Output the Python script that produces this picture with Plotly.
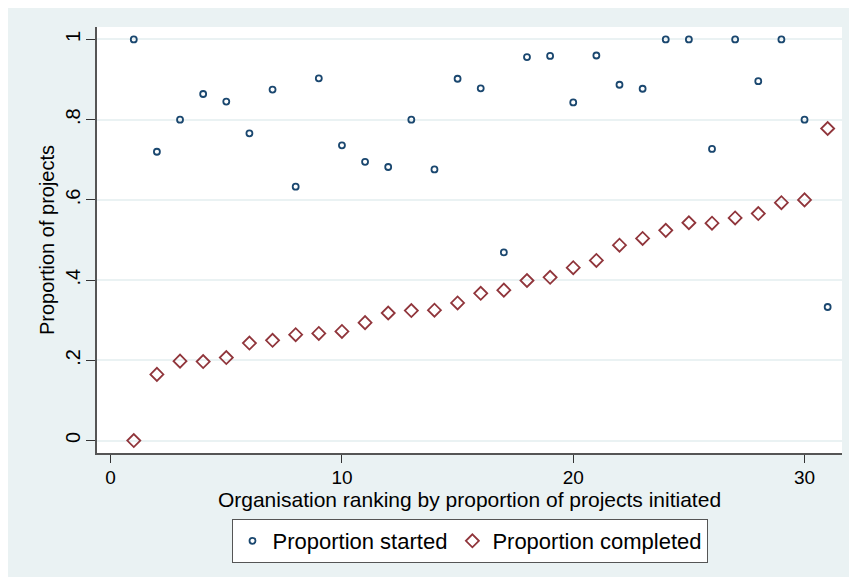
import plotly.graph_objects as go

# Data
org_rank = [1, 2, 3, 4, 5, 6, 7, 8, 9, 10, 11, 12, 13, 14, 15, 16,
            17, 18, 19, 20, 21, 22, 23, 24, 25, 26, 27, 28, 29, 30, 31]
prop_started = [1.0, 0.720, 0.800, 0.864, 0.845, 0.766, 0.875, 0.633, 0.903, 0.736,
                0.695, 0.682, 0.800, 0.676, 0.902, 0.878, 0.469, 0.956, 0.959, 0.843,
                0.960, 0.887, 0.877, 1.0, 1.0, 0.727, 1.0, 0.896, 1.0, 0.800, 0.333]
prop_completed = [0.0, 0.165, 0.198, 0.197, 0.207, 0.243, 0.250, 0.264, 0.267, 0.272,
                  0.294, 0.318, 0.324, 0.325, 0.343, 0.367, 0.375, 0.399, 0.407, 0.431,
                  0.449, 0.487, 0.504, 0.524, 0.543, 0.542, 0.555, 0.566, 0.593, 0.600, 0.778]
x_ticks = [0, 10, 20, 30]
y_ticks = [0, 0.2, 0.4, 0.6, 0.8, 1.0]
y_tick_labels = ["0", ".2", ".4", ".6", ".8", "1"]

BG = "#EAF2F3"
NAVY = "#1a476f"
MAROON = "#90353b"
FONT = "Liberation Sans, Arial, sans-serif"

fig = go.Figure()
fig.add_trace(go.Scatter(
    x=org_rank, y=prop_started, mode="markers", name="Proportion started",
    marker=dict(symbol="circle-open", size=6, color=NAVY, line=dict(width=1.8, color=NAVY)),
))
fig.add_trace(go.Scatter(
    x=org_rank, y=prop_completed, mode="markers", name="Proportion completed",
    marker=dict(symbol="diamond-open", size=10, color=MAROON, line=dict(width=1.8, color=MAROON)),
))

# the page body adds an 8px offset, so the figure is sized to fit the window
W, H = 849, 569
L, R, T, B = 89, 15, 19, 124
ph = H - T - B

def px_to_paper_y(py):
    return (H - B - py) / ph

fig.update_layout(
    width=W, height=H,
    margin=dict(l=L, r=R, t=T, b=B, pad=0, autoexpand=False),
    paper_bgcolor=BG, plot_bgcolor="white",
    font=dict(family=FONT, color="black", size=19),
    showlegend=True,
    legend=dict(
        orientation="h", x=0.5, xanchor="center", y=px_to_paper_y(511), yanchor="top",
        bgcolor="white", bordercolor="#555555", borderwidth=1,
        font=dict(size=22, family=FONT), itemwidth=30, tracegroupgap=0,
    ),
    xaxis=dict(
        range=[-0.59, 31.62], tickmode="array", tickvals=x_ticks,
        ticks="outside", ticklen=8, tickwidth=1, tickcolor="#333333",
        showline=True, linecolor="#555555", linewidth=1.5,
        showgrid=False, zeroline=False, automargin=False,
        tickfont=dict(size=19), ticklabelstandoff=-2,
        title=dict(text="Organisation ranking by proportion of projects initiated",
                   font=dict(size=21), standoff=0),
    ),
    yaxis=dict(
        range=[-0.031, 1.031], tickmode="array", tickvals=y_ticks, ticktext=y_tick_labels,
        tickangle=-90, ticklabelstandoff=-2,
        ticks="outside", ticklen=9, tickwidth=1, tickcolor="#333333",
        showline=True, linecolor="#555555", linewidth=1.5,
        showgrid=True, gridcolor=BG, gridwidth=2, zeroline=False, automargin=False,
        tickfont=dict(size=20),
        title=dict(text="Proportion of projects", font=dict(size=20), standoff=2),
    ),
)

fig.write_html("out.html")
